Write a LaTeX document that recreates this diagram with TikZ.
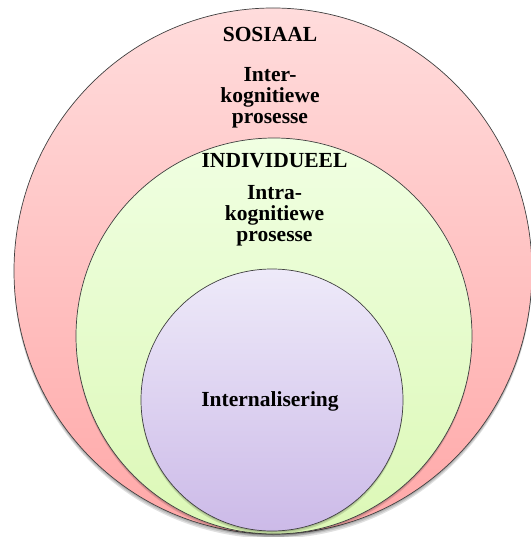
\documentclass[tikz,border=0pt]{standalone}
\usepackage{fontspec}
\setmainfont{Liberation Serif}
\begin{document}
\begin{tikzpicture}[x=1bp,y=-1bp,
  ring/.style={draw=black!75,line width=0.7bp},
  softshadow/.style={fill=black,opacity=0.12},
  lbl/.style={inner sep=0pt,align=center,font=\bfseries\fontsize{21.5bp}{21bp}\selectfont}]
\useasboundingbox (0,0) rectangle (531,537);
\clip (0,0) rectangle (531,537);
\definecolor{pinkTop}{RGB}{255,220,220}
\definecolor{pinkBot}{RGB}{255,168,168}
\definecolor{greenTop}{RGB}{240,255,226}
\definecolor{greenBot}{RGB}{220,248,182}
\definecolor{lilacTop}{RGB}{238,234,249}
\definecolor{lilacBot}{RGB}{204,186,232}

% outer ring: social
\foreach \d in {1.5,3,4.5}
  \fill[softshadow] (273,271+\d) ellipse [x radius=259, y radius=263];
\shade[top color=pinkTop,bottom color=pinkBot] (273,271) ellipse [x radius=259, y radius=263];
\draw[ring] (273,271) ellipse [x radius=259, y radius=263];

% middle ring: individual
\foreach \d in {1.5,3}
  \fill[softshadow] (274,336+\d) circle [radius=198];
\shade[top color=greenTop,bottom color=greenBot] (274,336) circle [radius=198];
\draw[ring] (274,336) circle [radius=198];

% inner circle: internalisation
\foreach \d in {1.5,3}
  \fill[softshadow] (272,400+\d) circle [radius=131];
\shade[top color=lilacTop,bottom color=lilacBot] (272,400) circle [radius=131];
\draw[ring] (272,400) circle [radius=131];

\node[lbl,anchor=base] (sos) at (270,42) {SOSIAAL};
\node[lbl,anchor=north] (inter) at (270,67) {Inter-\\kognitiewe\\prosesse};
\node[lbl,anchor=base] (ind) at (274.5,168) {INDIVIDUEEL};
\node[lbl,anchor=north] (intra) at (274.5,185) {Intra-\\kognitiewe\\prosesse};
\node[lbl,anchor=base] (intern) at (270,406) {Internalisering};
\end{tikzpicture}
\end{document}
